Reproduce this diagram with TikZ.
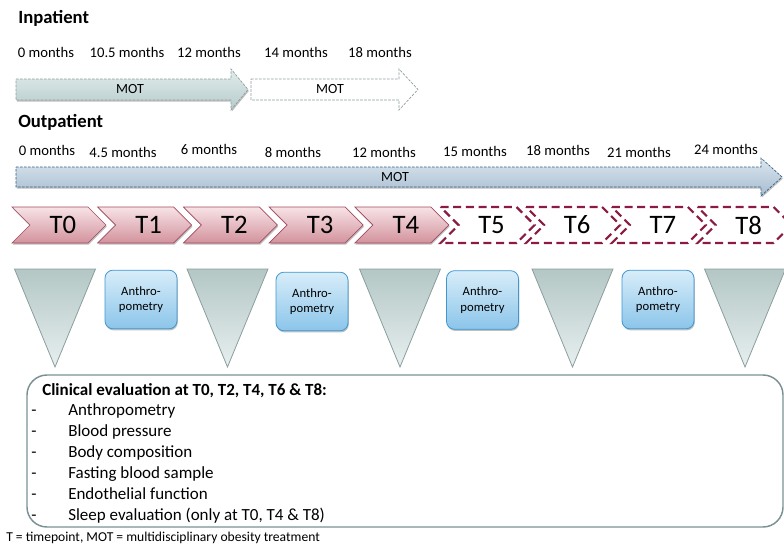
\documentclass[tikz,border=0pt]{standalone}
\usepackage{fontspec}
\setmainfont{Carlito}
\usetikzlibrary{shadows}
\definecolor{inptop}{HTML}{E2ECEC}
\definecolor{inpbot}{HTML}{B6CBCB}
\definecolor{inpline}{HTML}{8E9C9C}
\definecolor{outtop}{HTML}{DCE6EF}
\definecolor{outbot}{HTML}{A6BCD0}
\definecolor{outline}{HTML}{2F5F86}
\definecolor{chevtop}{HTML}{F7E3E6}
\definecolor{chevbot}{HTML}{D3929D}
\definecolor{chevline}{HTML}{A24A60}
\definecolor{chevdark}{HTML}{8B1A45}
\definecolor{tritop}{HTML}{B3C7C5}
\definecolor{tribot}{HTML}{E7EFEF}
\definecolor{triline}{HTML}{8A9E9D}
\definecolor{anthtop}{HTML}{D8EDF9}
\definecolor{anthbot}{HTML}{8BC5EA}
\definecolor{anthline}{HTML}{3E97D1}
\definecolor{boxline}{HTML}{7A9092}
\tikzset{softshadow/.style={drop shadow={shadow xshift=.6pt, shadow yshift=-1.2pt, opacity=.25, fill=black}}}
\tikzset{inarrow/.style={draw=inpline, line width=.5pt, dash pattern=on 2pt off 1pt, top color=inptop, bottom color=inpbot, softshadow}}
\tikzset{inarrowopen/.style={draw=inpline, line width=.5pt, dash pattern=on 2pt off 1pt, fill=white}}
\tikzset{outarrow/.style={draw=outline, line width=.5pt, dash pattern=on 2pt off 1pt, top color=outtop, bottom color=outbot, softshadow}}
\tikzset{chev/.style={draw=chevline, line width=.5pt, top color=chevtop, bottom color=chevbot, softshadow}}
\tikzset{chevdash/.style={draw=chevdark, line width=1.6pt, dash pattern=on 6pt off 3.5pt, fill=white}}
\tikzset{tri/.style={draw=triline, line width=.6pt, top color=tritop, bottom color=tribot}}
\tikzset{anth/.style={draw=anthline, line width=.6pt, rounded corners=6pt, top color=anthtop, bottom color=anthbot, minimum width=54pt, minimum height=44pt, align=center, inner sep=0pt, font=\fontsize{9.5}{11.5}\selectfont, softshadow}}
\tikzset{head/.style={anchor=west, inner sep=0pt, font=\bfseries\fontsize{14}{17}\selectfont}}
\tikzset{month/.style={inner sep=0pt, font=\fontsize{11}{13}\selectfont}}
\tikzset{mot/.style={inner sep=0pt, font=\fontsize{10.5}{12}\selectfont}}
\tikzset{tlabel/.style={inner sep=0pt, font=\fontsize{20}{24}\selectfont}}
\tikzset{item/.style={inner sep=0pt, font=\fontsize{12.75}{15}\selectfont}}

\begin{document}
\begin{tikzpicture}[x=.75pt, y=-.75pt]
  \useasboundingbox (0,0) rectangle (784,546);
  \clip (0,0) rectangle (784,546);

  \node[head] (inpatient) at (18,18) {Inpatient};
  \foreach \x/\m [count=\k] in {46/0, 127/10.5, 209/12, 296/14, 380/18} {
    \node[month] (inmonth\k) at (\x,52) {\m\ months};
  }
  \draw[inarrow] (16,79) -- (231,79) -- (231,69) -- (248,89.5) -- (231,110) -- (231,100) -- (16,100) -- cycle;
  \draw[inarrowopen] (251,79) -- (399,79) -- (399,69) -- (418,89.5) -- (399,110) -- (399,100) -- (251,100) -- cycle;
  \node[mot] (inmot) at (130,89.5) {MOT};
  \node[mot] (inmotopen) at (330,89.5) {MOT};

  \node[head] (outpatient) at (18,122) {Outpatient};
  \foreach \x/\y/\m [count=\k] in {47/150/0, 123/152/4.5, 209/149/6, 293/152/8, 384/152/12,
      475/151/15, 558/150/18, 639/152/21, 726/149/24} {
    \node[month] (outmonth\k) at (\x,\y) {\m\ months};
  }
  \draw[outarrow] (16,167) -- (761,167) -- (761,158) -- (782,177) -- (761,196) -- (761,187) -- (16,187) -- cycle;
  \node[mot] (outmot) at (395,177) {MOT};

  \foreach \i in {0,...,8} {
    \pgfmathsetmacro\xa{12+85.7*\i}
    \ifnum\i<5
      \draw[chev] (\xa,207) -- ++(76,0) -- ++(18,18) -- ++(-18,18) -- ++(-76,0) -- ++(18,-18) -- cycle;
    \else
      \draw[chevdash] (\xa,207) -- ++(76,0) -- ++(18,18) -- ++(-18,18) -- ++(-76,0) -- ++(18,-18) -- cycle;
    \fi
    \node[tlabel] (t\i) at (\xa+51,225) {T\i};
  }

  \foreach \c [count=\k from 0] in {55,227.5,400,572.5,745} {
    \draw[tri] (\c-40.5,269) -- (\c+40.5,269) -- (\c,367) -- cycle;
  }
  \foreach \x/\y/\n in {141/299.5/1, 312/301.5/3, 482.5/300/5, 658/299.5/7} {
    \node[anth] (anth\n) at (\x,\y) {Anthro-\\pometry};
  }

  \draw[boxline, line width=1.1pt, rounded corners=15pt] (27,375) rectangle (783,527);
  \node[item, anchor=base west, font=\bfseries\fontsize{12.75}{15}\selectfont] (clinical) at (42,395)
    {Clinical evaluation at T0, T2, T4, T6 \& T8:};
  \foreach \t [count=\k] in {Anthropometry, Blood pressure, Body composition, Fasting blood sample,
      Endothelial function, {Sleep evaluation (only at T0, T4 \& T8)}} {
    \node[item, anchor=base] (dash\k) at (34,394+21*\k) {-};
    \node[item, anchor=base west] (item\k) at (68,394+21*\k) {\t};
  }

  \node[anchor=west, inner sep=0pt, font=\fontsize{10.2}{12}\selectfont] (note) at (6,538)
    {T = timepoint, MOT = multidisciplinary obesity treatment};
\end{tikzpicture}
\end{document}
